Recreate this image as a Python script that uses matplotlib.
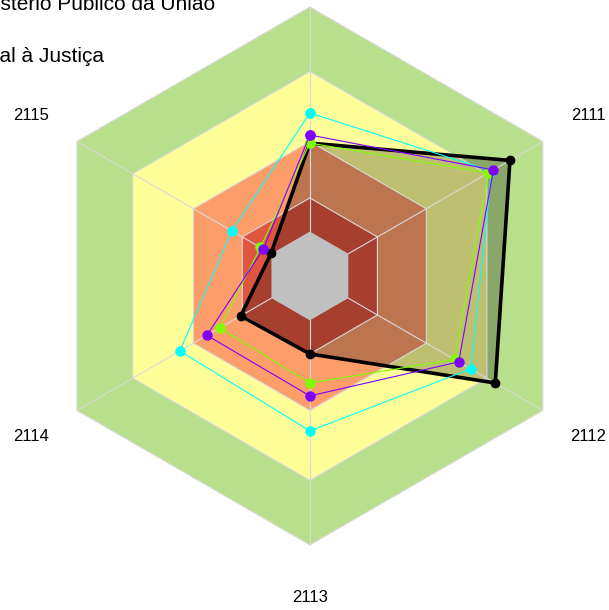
import numpy as np
import matplotlib.pyplot as plt

plt.rcParams['font.family'] = ['Liberation Sans', 'DejaVu Sans']

# axes of the radar, clockwise from the top (top label falls outside the crop)
categories = ["2110", "2111", "2112", "2113", "2114", "2115"]

# series values, in % of the outer ring
serie_black = [49.4, 85.9, 79.6, 29.0, 29.7, 16.7]
serie_purple = [52.4, 78.8, 63.9, 44.6, 44.2, 20.0]
serie_green = [49.4, 76.6, 62.1, 39.8, 38.7, 21.2]
serie_cyan = [60.6, 78.0, 69.1, 57.6, 55.8, 33.5]

# background bands (outer limit of each band)
band_limits = [16.5, 29, 50, 76, 100]
band_colors = ["#C0C0C0", "#E05540", "#FC9D6A", "#FFFF99", "#B8E08C"]

title_lines = ["Ministério Público da União", "Acesso Integral à Justiça"]

n = len(categories)
angles = np.deg2rad(90 - 60 * np.arange(n))


def to_xy(vals):
    vals = np.asarray(vals, dtype=float)
    x = vals * np.cos(angles)
    y = vals * np.sin(angles)
    return np.append(x, x[0]), np.append(y, y[0])


fig = plt.figure(figsize=(6.09, 6.10), dpi=100)
ax = fig.add_axes([0, 0, 1, 1])
ax.set_xlim(-115.2, 111.2)
ax.set_ylim(-124.2, 102.6)
ax.set_aspect('equal')
ax.axis('off')

# bands, from the outside in (grey centre goes on top of the fill)
for lim, col in zip(band_limits[::-1], band_colors[::-1]):
    if col == "#C0C0C0":
        continue
    hx, hy = to_xy([lim] * n)
    ax.fill(hx, hy, color=col, lw=0, zorder=1)

# black series fill
bx, by = to_xy(serie_black)
ax.fill(bx, by, color='black', alpha=0.25, lw=0, zorder=2)

# grid: band outlines and spokes
for lim in band_limits[1:]:
    hx, hy = to_xy([lim] * n)
    ax.plot(hx, hy, color='#D9D9D9', lw=0.8, zorder=3)
for a in angles:
    ax.plot([0, 100 * np.cos(a)], [0, 100 * np.sin(a)], color='#D9D9D9', lw=0.8, zorder=3)

gx, gy = to_xy([band_limits[0]] * n)
ax.fill(gx, gy, color=band_colors[0], lw=0, zorder=4)

# series
ax.plot(bx, by, color='black', lw=2.6, marker='o', ms=6, zorder=5)
for vals, col in [(serie_cyan, '#00FFFF'), (serie_green, '#7FFF00'), (serie_purple, '#8000FF')]:
    sx, sy = to_xy(vals)
    ax.plot(sx, sy, color=col, lw=0.8, marker='o', ms=6.5, zorder=6)

# axis labels (the top one lies above the cropped area, so it is left out)
for cat, a in zip(categories, angles):
    lx, ly = 119.5 * np.cos(a), 119.5 * np.sin(a)
    if ly > ax.get_ylim()[1]:
        continue
    ax.text(lx, ly, cat, ha='center', va='center', fontsize=12, color='black')

fig.text(215 / 609, 1 - 10 / 610, title_lines[0], ha='right', va='baseline', fontsize=15)
fig.text(104 / 609, 1 - 62 / 610, title_lines[1], ha='right', va='baseline', fontsize=15)

fig.savefig('out.png', dpi=100)
